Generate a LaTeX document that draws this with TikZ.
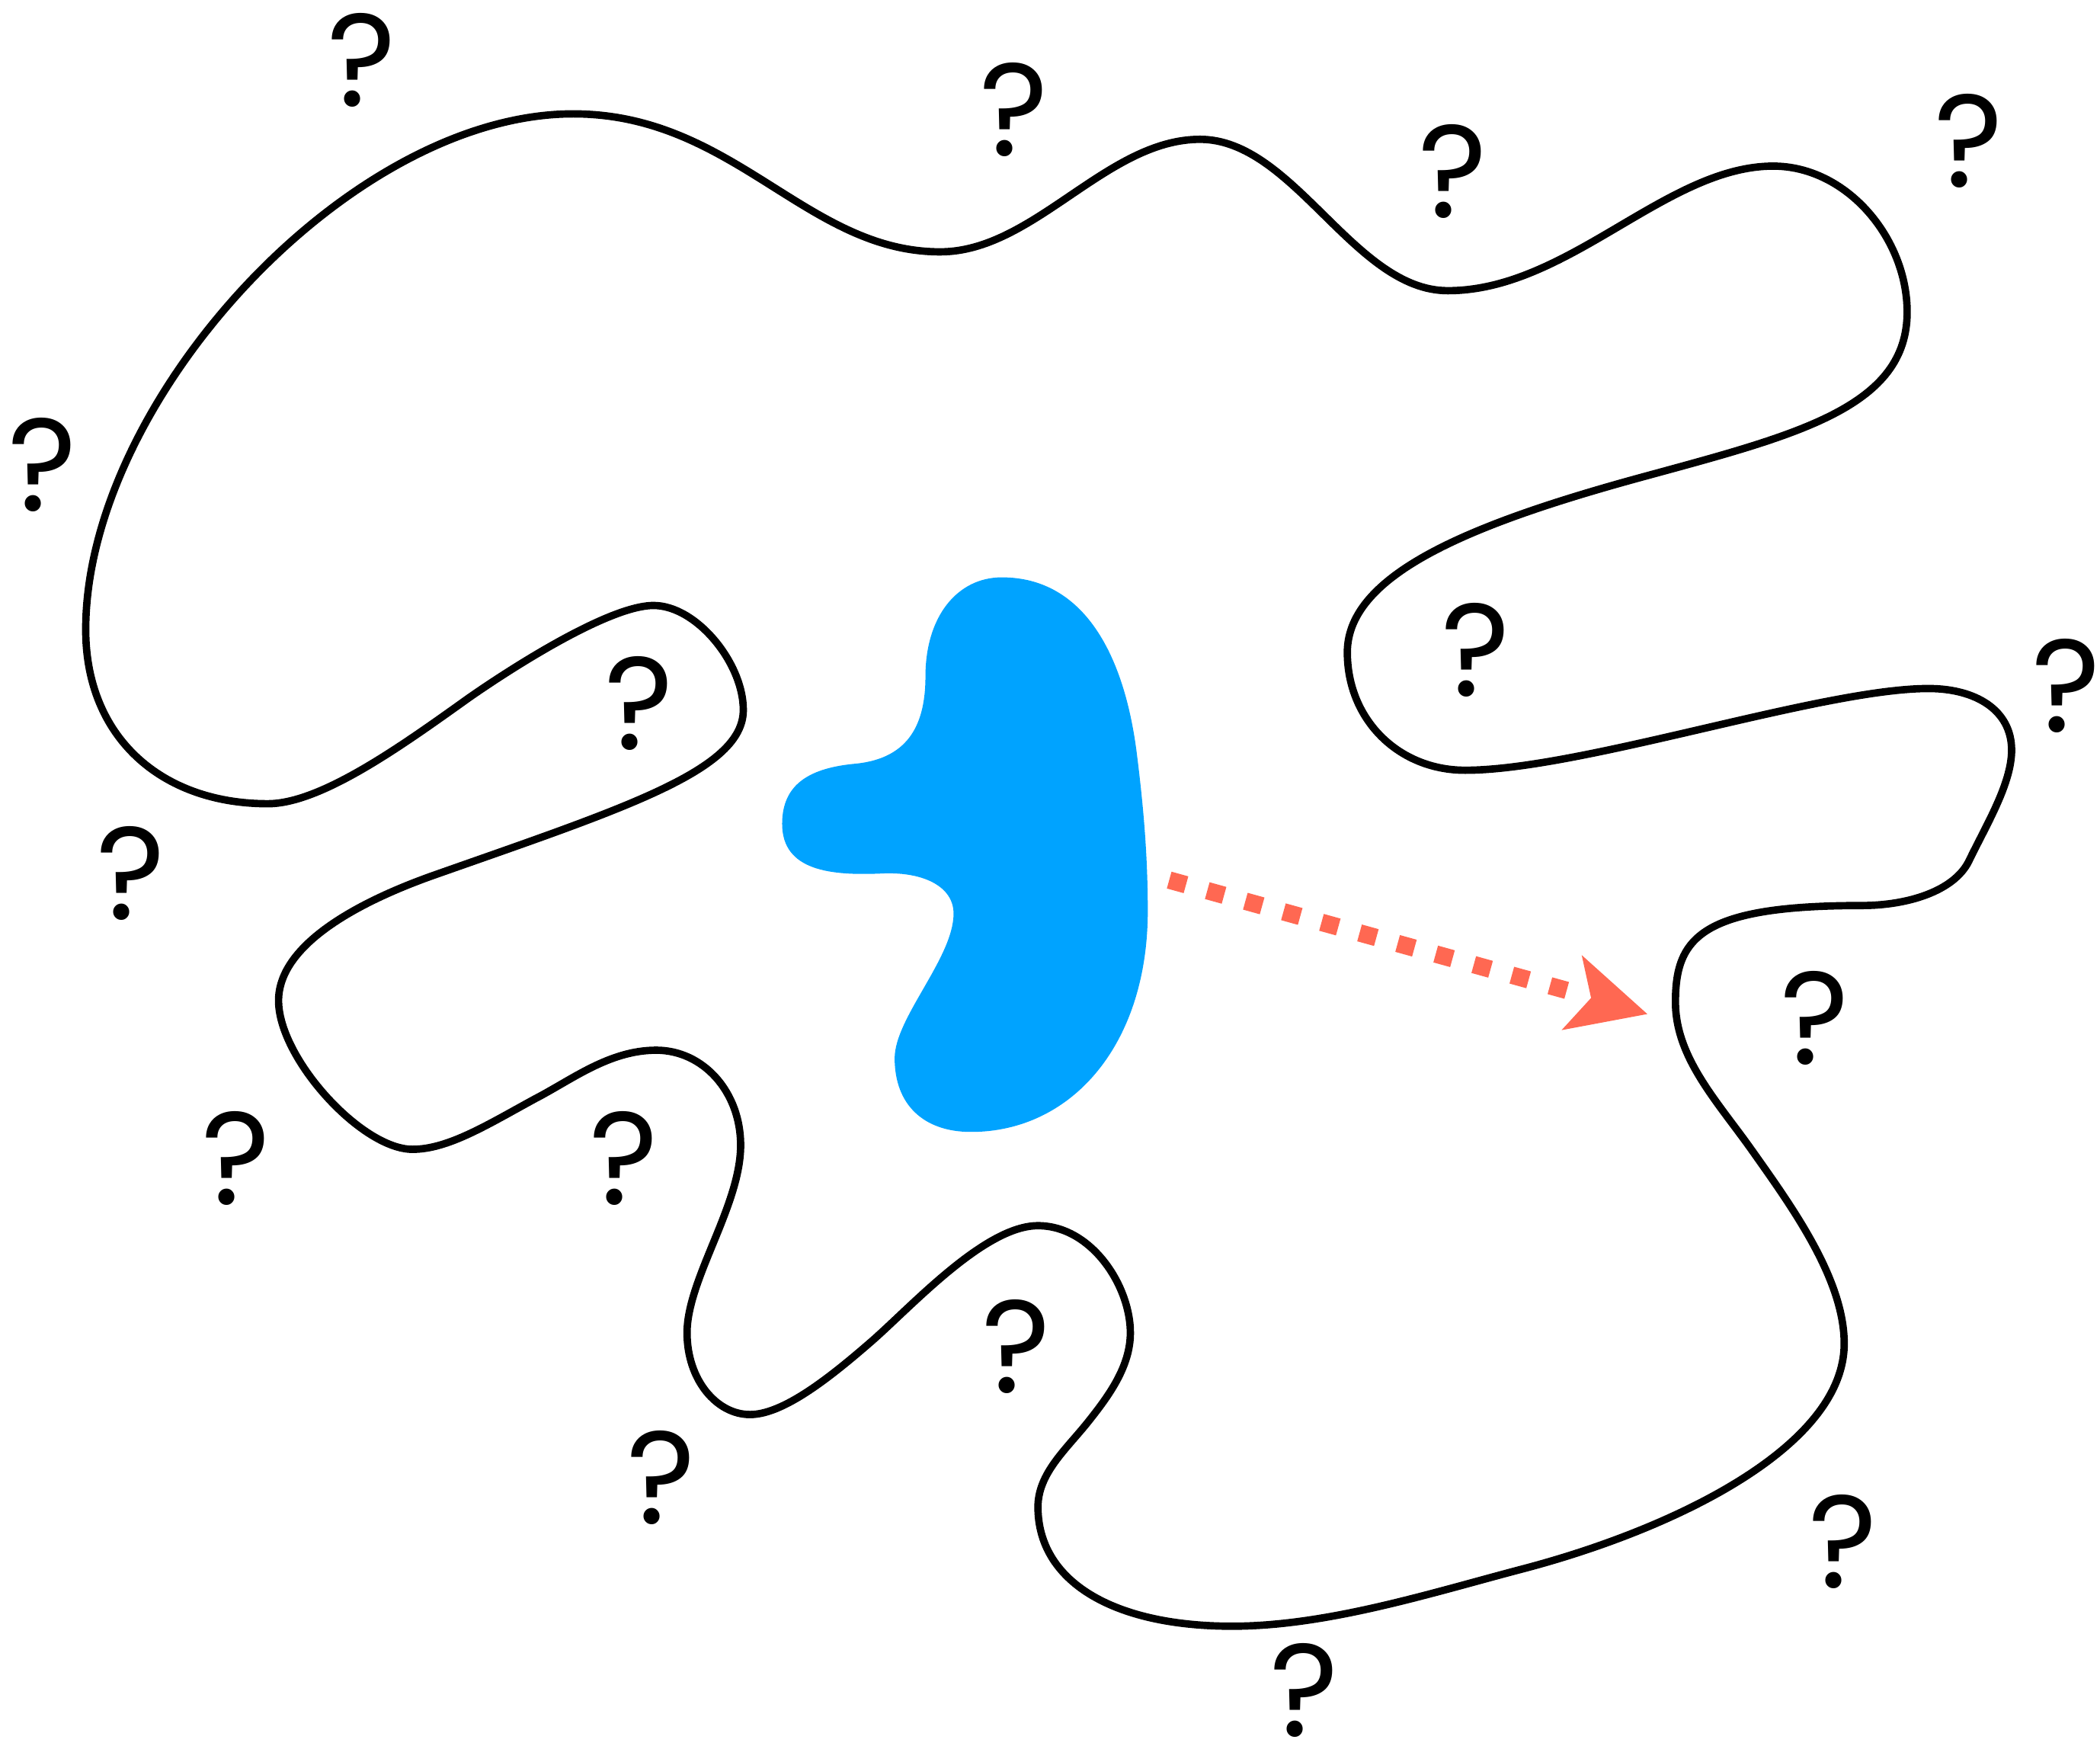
\documentclass[tikz,border=0pt]{standalone}
\usepackage{fontspec}
\newfontfamily\qfont{Poppins}
\definecolor{blobblue}{RGB}{0,163,255}
\definecolor{arrowred}{RGB}{255,104,82}
\begin{document}
\begin{tikzpicture}[x=0.1mm,y=-0.1mm,
  qm/.style={font=\qfont\fontsize{28}{28}\selectfont, inner sep=0pt, text=black},
  outline/.style={line width=0.55mm, draw=black, line join=round},
  blob/.style={fill=blobblue, draw=none},
  dotline/.style={draw=arrowred, line width=1.3mm, line cap=butt, dash pattern=on 1.3mm off 1.65mm},
  headfill/.style={fill=arrowred, draw=none}]
\useasboundingbox (0,0) rectangle (1568,1303);

% big wandering outline
\draw[outline] (428,85)
  .. controls +(120,0) and +(-100,0) .. (702,188)
  .. controls +(70,0) and +(-70,0) .. (896,104)
  .. controls +(70,0) and +(-70,0) .. (1081,217)
  .. controls +(90,0) and +(-80,0) .. (1324,124)
  .. controls +(55,0) and +(0,-55) .. (1424,233)
  .. controls +(0,70) and +(110,-30) .. (1234,354)
  .. controls +(-130,35) and +(0,-60) .. (1006,487)
  .. controls +(0,50) and +(-50,0) .. (1094,575)
  .. controls +(86,0) and +(-80,0) .. (1440,514)
  .. controls +(35,0) and +(0,-30) .. (1502,560)
  .. controls +(0,25) and +(13,-27) .. (1470,643)
  .. controls +(-11,22) and +(35,0) .. (1390,676)
  .. controls +(-120,0) and +(0,-48) .. (1251,748)
  .. controls +(0,42) and +(-26,-37) .. (1309,860)
  .. controls +(29,41) and +(0,-48) .. (1377,1003)
  .. controls +(0,77) and +(116,-30) .. (1134,1172)
  .. controls +(-68,18) and +(70,0) .. (920,1214)
  .. controls +(-90,0) and +(0,55) .. (775,1125)
  .. controls +(0,-25) and +(-16,20) .. (812,1062)
  .. controls +(16,-20) and +(0,25) .. (844,995)
  .. controls +(0,-35) and +(40,0) .. (775,915)
  .. controls +(-40,0) and +(30,-26) .. (650,1002)
  .. controls +(-30,26) and +(25,0) .. (560,1056)
  .. controls +(-25,0) and +(0,35) .. (513,995)
  .. controls +(0,-40) and +(0,45) .. (553,855)
  .. controls +(0,-40) and +(35,0) .. (490,784)
  .. controls +(-35,0) and +(27,-14) .. (400,820)
  .. controls +(-35,19) and +(27,0) .. (308,858)
  .. controls +(-38,0) and +(0,43) .. (208,747)
  .. controls +(0,-42) and +(-57,20) .. (325,653)
  .. controls +(142,-50) and +(0,45) .. (555,530)
  .. controls +(0,-35) and +(32,0) .. (488,452)
  .. controls +(-33,0) and +(33,-23) .. (350,521)
  .. controls +(-49,35) and +(40,0) .. (200,600)
  .. controls +(-80,0) and +(0,80) .. (64,470)
  .. controls +(0,-170) and +(-168,0) .. (428,85) -- cycle;

% blue blob
\fill[blob] (748,431)
  .. controls +(62,0) and +(-9,-74) .. (849,564)
  .. controls +(5,40) and +(0,-40) .. (857,680)
  .. controls +(0,100) and +(75,0) .. (725,845)
  .. controls +(-35,0) and +(0,35) .. (668,790)
  .. controls +(0,-30) and +(0,33) .. (712,682)
  .. controls +(0,-20) and +(30,-1) .. (660,652)
  .. controls +(-40,2) and +(0,35) .. (584,615)
  .. controls +(0,-30) and +(-35,3) .. (640,570)
  .. controls +(35,-4) and +(0,40) .. (691,505)
  .. controls +(0,-45) and +(-33,0) .. (748,431) -- cycle;

% dotted arrow
\coordinate (a0) at (873,657);
\coordinate (a1) at (1183,743);
\draw[dotline] (a0) -- (a1);
\fill[headfill] (1230,757) -- (1181,713) -- (1188,745) -- (1166,769) -- cycle;

% question marks
\node[qm] (q1) at (270,45) {?};
\node[qm] (q2) at (757,82) {?};
\node[qm] (q3) at (1085,128) {?};
\node[qm] (q4) at (1470,105) {?};
\node[qm] (q5) at (32,347) {?};
\node[qm] (q6) at (1102,485) {?};
\node[qm] (q7) at (477,525) {?};
\node[qm] (q8) at (1543,512) {?};
\node[qm] (q9) at (98,652) {?};
\node[qm] (q10) at (1355,760) {?};
\node[qm] (q11) at (176,865) {?};
\node[qm] (q12) at (466,865) {?};
\node[qm] (q13) at (759,1005) {?};
\node[qm] (q14) at (494,1103) {?};
\node[qm] (q15) at (1376,1151) {?};
\node[qm] (q16) at (974,1262) {?};
\end{tikzpicture}
\end{document}
